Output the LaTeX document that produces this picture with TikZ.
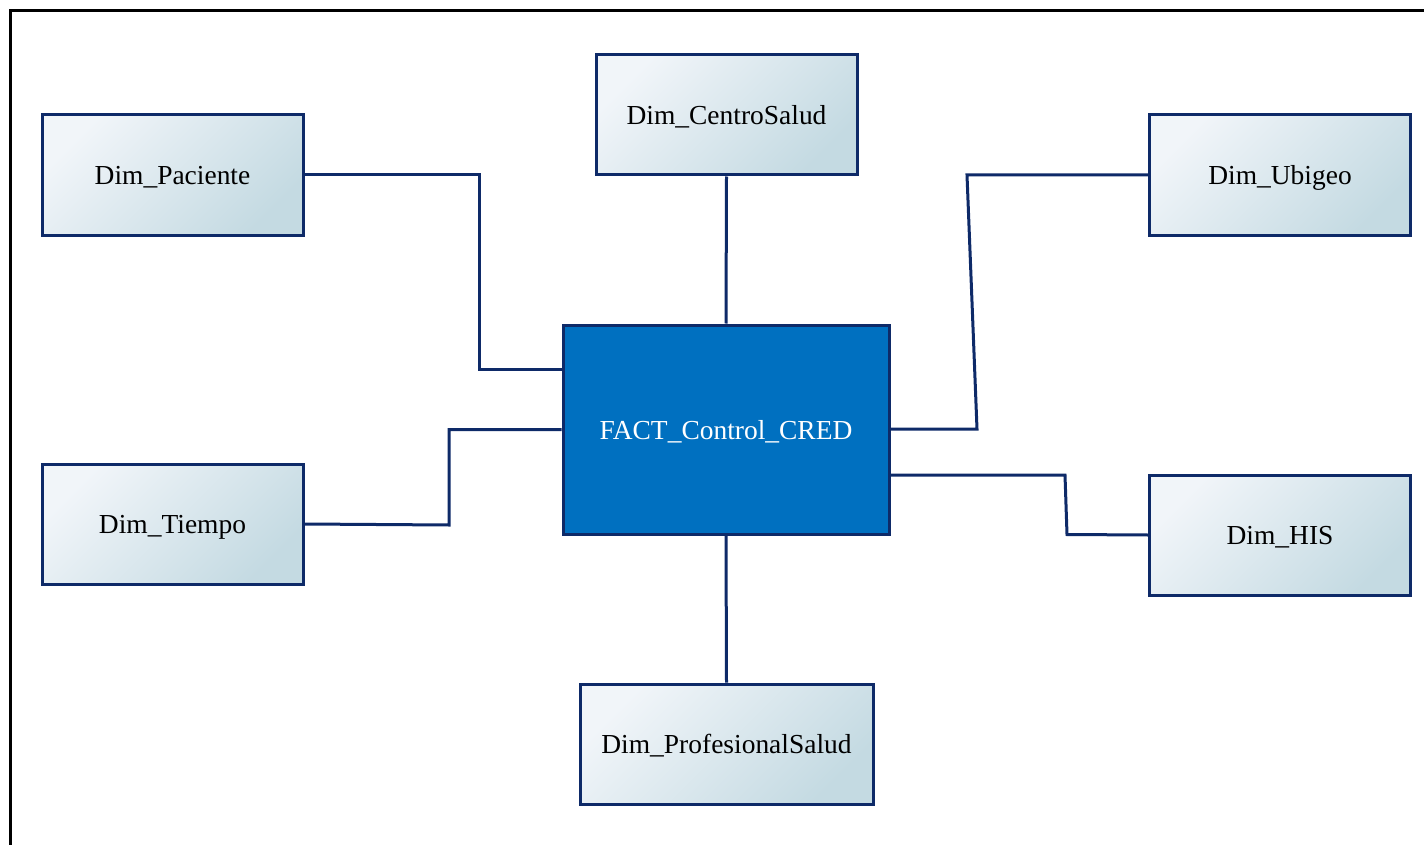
\documentclass[tikz,border=0pt]{standalone}
\usepackage{fontspec}
\setmainfont{Liberation Serif}
\definecolor{navy}{HTML}{0E2A68}
\definecolor{factblue}{HTML}{0070C0}
\definecolor{dimlight}{HTML}{F1F5F9}
\definecolor{dimdark}{HTML}{C4DAE2}
\begin{document}
\begin{tikzpicture}[x=0.75pt,y=-0.75pt,
  line width=2.25pt,
  dimbox/.style={draw=navy, top color=dimlight, bottom color=dimdark, shading angle=45,
    minimum width=261*0.75pt, minimum height=120*0.75pt, inner sep=0pt, text depth=0pt,
    font=\fontsize{20.6pt}{24pt}\selectfont, text=black},
  factbox/.style={draw=navy, fill=factblue, minimum width=326*0.75pt, minimum height=209*0.75pt,
    inner sep=0pt, text depth=0pt, font=\fontsize{20.6pt}{24pt}\selectfont, text=white},
  link/.style={draw=navy, line width=2.25pt, line join=miter}]
\useasboundingbox (0,0) rectangle (1424,845);
% open frame along the top and left edges
\draw[black, line width=2.4pt] (10.5,846) -- (10.5,10.5) -- (1425,10.5);

\node[factbox] (fact) at (726,429.5) {FACT\_Control\_CRED};
\node[dimbox] (centro) at (726.5,115) {Dim\_CentroSalud};
\node[dimbox] (paciente) at (172.5,175) {Dim\_Paciente};
\node[dimbox] (ubigeo) at (1280,175) {Dim\_Ubigeo};
\node[dimbox] (tiempo) at (172.5,524) {Dim\_Tiempo};
\node[dimbox] (his) at (1280,535) {Dim\_HIS};
\node[dimbox, minimum width=293*0.75pt] (prof) at (726.5,744) {Dim\_ProfesionalSalud};

\coordinate (p1) at (479,175);
\coordinate (p2) at (479,369);
\coordinate (u1) at (967,175);
\coordinate (u2) at (977,429);
\coordinate (t1) at (449,525);
\coordinate (t2) at (449,429.5);
\coordinate (h1) at (1065,475);
\coordinate (h2) at (1067,534.5);

\draw[link] (paciente.east) -- (p1) -- (p2) -- (p2 -| fact.west);
\draw[link] (centro.south) -- (fact.north);
\draw[link] (ubigeo.west) -- (u1) -- (u2) -- (u2 -| fact.east);
\draw[link] (tiempo.east) -- (t1) -- (t2) -- (t2 -| fact.west);
\draw[link] (h1 -| fact.east) -- (h1) -- (h2) -- (his.west);
\draw[link] (fact.south) -- (prof.north);
\end{tikzpicture}
\end{document}
